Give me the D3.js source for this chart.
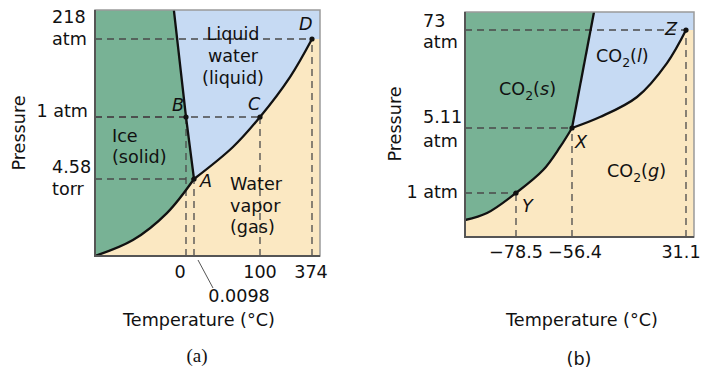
<!DOCTYPE html>
<html>
<head>
<meta charset="utf-8">
<script src="https://cdn.jsdelivr.net/npm/d3@7"></script>
<style>
  body { margin: 0; background: #fff; }
  text { font-family: "DejaVu Sans", sans-serif; font-size: 17.6px; fill: #111; }
  .pt { font-style: italic; }
</style>
</head>
<body>
<div id="chart"></div>
<script>
// ---- data: water (a) ----
var waterTempDomain = [-30, 0, 0.0098, 100, 374, 400];
var waterPresDomain = [0, 0.00603, 1, 218, 300];
var waterTempTicks = ["0", "100", "374"];
var waterTempTickValues = [0, 100, 374];
var waterPresTicks = [["218", "atm"], ["1 atm"], ["4.58", "torr"]];
var waterPresTickValues = [218, 1, 0.00603];
var waterSublimation = [[-30, 0], [-17.5, 0.00125], [-6.3, 0.00336], [0.0098, 0.00603]];
var waterVaporization = [[0.0098, 0.00603], [59, 0.519], [100, 1], [258, 112], [374, 218]];
var waterFusion = [[0.0098, 0.00603], [0, 1], [-4, 300]];
var waterPointNames = ["A", "B", "C", "D"];
var waterPoints = [[0.0098, 0.00603], [0, 1], [100, 1], [374, 218]];

// ---- data: carbon dioxide (b) ----
var co2TempDomain = [-100, -78.5, -56.4, 31.1, 40];
var co2PresDomain = [0, 1, 5.11, 73, 90];
var co2TempTicks = ["\u221278.5", "\u221256.4", "31.1"];
var co2TempTickValues = [-78.5, -56.4, 31.1];
var co2PresTicks = [["73", "atm"], ["5.11", "atm"], ["1 atm"]];
var co2PresTickValues = [73, 5.11, 1];
var co2Sublimation = [[-100, 0.386], [-90.7, 0.545], [-78.5, 1], [-67.8, 2.45], [-61.1, 3.91], [-56.4, 5.11]];
var co2Vaporization = [[-56.4, 5.11], [-34.9, 12.7], [-6.5, 26.6], [16.5, 50.1], [31.1, 73]];
var co2Fusion = [[-56.4, 5.11], [-39.5, 90]];
var co2PointNames = ["X", "Y", "Z"];
var co2Points = [[-56.4, 5.11], [-78.5, 1], [31.1, 73]];

var colors = { solid: "#78b295", liquid: "#c6daf3", gas: "#fbe8c2" };

var svg = d3.select("#chart")
  .append("svg")
  .attr("width", 707)
  .attr("height", 381);

// draws one phase diagram panel
function drawPanel(cfg) {
  var x = d3.scaleLinear().domain(cfg.tDomain).range(cfg.xRange);
  var y = d3.scaleLinear().domain(cfg.pDomain).range(cfg.yRange);
  var left = cfg.xRange[0], right = cfg.xRange[cfg.xRange.length - 1];
  var bottom = cfg.yRange[0], top = cfg.yRange[cfg.yRange.length - 1];

  var g = svg.append("g");
  var px = d => [x(d[0]), y(d[1])];
  var curve = d3.line().curve(d3.curveCatmullRom.alpha(0.5));
  var straight = d3.line();

  var clipId = "clip" + cfg.id;
  g.append("clipPath").attr("id", clipId)
    .append("rect")
    .attr("x", left).attr("y", top)
    .attr("width", right - left).attr("height", bottom - top);

  var plot = g.append("g").attr("clip-path", `url(#${clipId})`);

  // gas background
  plot.append("rect")
    .attr("x", left).attr("y", top)
    .attr("width", right - left).attr("height", bottom - top)
    .attr("fill", colors.gas);

  var sub = cfg.sublimation.map(px);
  var vap = cfg.vaporization.map(px);
  var fus = cfg.fusion.map(px);
  var triple = sub[sub.length - 1];
  var fusTop = fus[fus.length - 1];
  var crit = vap[vap.length - 1];

  // solid region
  var solidPath = straight([[left, top], fusTop, triple]) +
    curve(sub.slice().reverse()).replace(/^M/, "L") +
    straight([sub[0], [left, top]]).replace(/^M/, "L") + "Z";
  plot.append("path").attr("d", solidPath).attr("fill", colors.solid);

  // liquid region
  var liquidPath = straight([fusTop, [right, top], [right, crit[1]], crit]) +
    curve(vap.slice().reverse()).replace(/^M/, "L") + "Z";
  plot.append("path").attr("d", liquidPath).attr("fill", colors.liquid);

  // dashed guides
  var guides = plot.append("g")
    .attr("stroke", "#4a4a4a")
    .attr("stroke-width", 1.3)
    .attr("stroke-dasharray", "7,5")
    .attr("fill", "none");
  cfg.points.forEach(function (d) {
    var p = px(d);
    guides.append("line").attr("x1", left).attr("x2", p[0]).attr("y1", p[1]).attr("y2", p[1]);
    guides.append("line").attr("x1", p[0]).attr("x2", p[0]).attr("y1", bottom).attr("y2", p[1]);
  });

  // phase boundaries
  plot.append("path").attr("d", curve(sub)).attr("fill", "none").attr("stroke", "#111").attr("stroke-width", 2.3);
  plot.append("path").attr("d", curve(vap)).attr("fill", "none").attr("stroke", "#111").attr("stroke-width", 2.3);
  plot.append("path").attr("d", straight(fus)).attr("fill", "none").attr("stroke", "#111").attr("stroke-width", 2.3);

  // frame
  g.append("rect")
    .attr("x", left).attr("y", top)
    .attr("width", right - left).attr("height", bottom - top)
    .attr("fill", "none").attr("stroke", "#9a9a9a").attr("stroke-width", 1.5);
  g.append("path")
    .attr("d", `M${left},${top}V${bottom}H${right}`)
    .attr("fill", "none").attr("stroke", "#555").attr("stroke-width", 2);

  // points and their letters
  cfg.points.forEach(function (d, i) {
    var p = px(d);
    g.append("circle").attr("cx", p[0]).attr("cy", p[1]).attr("r", 2.6).attr("fill", "#111");
    g.append("text").attr("class", "pt")
      .attr("x", p[0] + cfg.nameOffsets[i][0])
      .attr("y", p[1] + cfg.nameOffsets[i][1])
      .text(cfg.pointNames[i]);
  });

  // x tick labels
  cfg.tTicks.forEach(function (t, i) {
    g.append("text")
      .attr("x", x(cfg.tTickValues[i]) + cfg.tTickShift[i])
      .attr("y", cfg.tTickY)
      .attr("text-anchor", "middle")
      .text(t);
  });

  // y tick labels
  cfg.pTicks.forEach(function (lines, i) {
    var yy = y(cfg.pTickValues[i]);
    if (lines.length === 1) {
      g.append("text")
        .attr("x", left - 7).attr("y", yy + cfg.pTickOffsets[i][0])
        .attr("text-anchor", "end")
        .text(lines[0]);
    } else {
      lines.forEach(function (s, j) {
        g.append("text")
          .attr("x", cfg.pTickX).attr("y", yy + cfg.pTickOffsets[i][j])
          .text(s);
      });
    }
  });

  // axis titles
  g.append("text")
    .attr("transform", `translate(${cfg.pTitle[0]},${cfg.pTitle[1]}) rotate(-90)`)
    .attr("text-anchor", "middle")
    .text("Pressure");
  g.append("text")
    .attr("x", cfg.tTitle[0]).attr("y", cfg.tTitle[1])
    .attr("text-anchor", "middle")
    .text("Temperature (\u00b0C)");

  return { g: g, x: x, y: y };
}

// ---- panel (a) ----
var a = drawPanel({
  id: "a",
  tDomain: waterTempDomain, pDomain: waterPresDomain,
  xRange: [95, 186, 194, 260, 312, 320], yRange: [256, 179, 117, 39, 10],
  sublimation: waterSublimation, vaporization: waterVaporization, fusion: waterFusion,
  points: waterPoints, pointNames: waterPointNames,
  nameOffsets: [[6, 8], [-14, -6], [-12, -7], [-13, -9]],
  tTicks: waterTempTicks, tTickValues: waterTempTickValues, tTickShift: [-6, 0, -1], tTickY: 278,
  pTicks: waterPresTicks, pTickValues: waterPresTickValues,
  pTickOffsets: [[-16, 6], [0], [-6, 16]], pTickX: 52,
  pTitle: [25, 133], tTitle: [199, 326]
});

// triple point temperature with leader line
a.g.append("line")
  .attr("x1", 198).attr("y1", 260).attr("x2", 213).attr("y2", 288)
  .attr("stroke", "#555").attr("stroke-width", 1);
a.g.append("text")
  .attr("x", 239).attr("y", 302)
  .attr("text-anchor", "middle")
  .text("0.0098");

// region names
function lines(g, strs, xx, yy, dy, anchor) {
  strs.forEach(function (s, i) {
    g.append("text").attr("x", xx).attr("y", yy + i * dy)
      .attr("text-anchor", anchor).text(s);
  });
}
lines(a.g, ["Liquid", "water", "(liquid)"], 233, 40, 22, "middle");
lines(a.g, ["Ice", "(solid)"], 112, 142, 21, "start");
lines(a.g, ["Water", "vapor", "(gas)"], 230, 190, 21.5, "start");

a.g.append("text")
  .attr("x", 197).attr("y", 362)
  .attr("text-anchor", "middle")
  .style("font-family", "'Liberation Serif', serif")
  .style("font-size", "19px")
  .text("(a)");

// ---- panel (b) ----
var b = drawPanel({
  id: "b",
  tDomain: co2TempDomain, pDomain: co2PresDomain,
  xRange: [465, 516, 572, 686, 694], yRange: [237, 193, 128, 30, 12],
  sublimation: co2Sublimation, vaporization: co2Vaporization, fusion: co2Fusion,
  points: co2Points, pointNames: co2PointNames,
  nameOffsets: [[3, 20], [6, 19], [-21, 5]],
  tTicks: co2TempTicks, tTickValues: co2TempTickValues, tTickShift: [0, 3, -5], tTickY: 258,
  pTicks: co2PresTicks, pTickValues: co2PresTickValues,
  pTickOffsets: [[-3, 18], [-5, 19], [5]], pTickX: 423,
  pTitle: [401, 124], tTitle: [582, 326]
});

function co2Label(g, phase, xx, yy) {
  var t = g.append("text").attr("x", xx).attr("y", yy);
  t.append("tspan").text("CO");
  t.append("tspan").attr("dy", 5).style("font-size", "12.5px").text("2");
  t.append("tspan").attr("dy", -5).text("(");
  t.append("tspan").style("font-style", "italic").text(phase);
  t.append("tspan").text(")");
}
co2Label(b.g, "s", 499, 95);
co2Label(b.g, "l", 596, 62);
co2Label(b.g, "g", 607, 177);

b.g.append("text")
  .attr("x", 579).attr("y", 365)
  .attr("text-anchor", "middle")
  .text("(b)");
</script>
</body>
</html>
